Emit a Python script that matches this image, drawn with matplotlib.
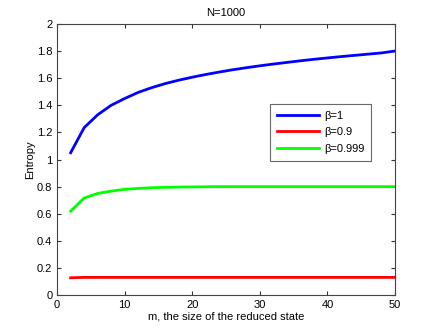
import numpy as np
import matplotlib
matplotlib.use('Agg')
from matplotlib import pyplot as plt

plt.rcParams['font.family'] = ['Liberation Sans', 'DejaVu Sans']

m = [2, 4, 6, 8, 10, 12, 14, 16, 18, 20, 22, 24, 26, 28, 30, 32, 34, 36, 38, 40, 42, 44, 46, 48, 50]
beta_1 = [1.05, 1.235, 1.33, 1.40, 1.45, 1.495, 1.53, 1.56, 1.585, 1.607, 1.627, 1.645, 1.662, 1.677,
          1.691, 1.704, 1.716, 1.728, 1.739, 1.749, 1.759, 1.768, 1.777, 1.786, 1.80]
beta_09 = [0.128, 0.131, 0.131, 0.131, 0.131, 0.131, 0.131, 0.131, 0.131, 0.131, 0.131, 0.131, 0.131,
           0.131, 0.131, 0.131, 0.131, 0.131, 0.131, 0.131, 0.131, 0.131, 0.131, 0.131, 0.131]
beta_0999 = [0.62, 0.716, 0.75, 0.767, 0.78, 0.787, 0.792, 0.795, 0.797, 0.798, 0.799, 0.80, 0.80,
             0.80, 0.80, 0.80, 0.80, 0.80, 0.80, 0.80, 0.80, 0.80, 0.80, 0.80, 0.80]
labels = ['β=1', 'β=0.9', 'β=0.999']

fig = plt.figure(figsize=(4.36, 3.32), dpi=100)
ax = fig.add_axes([0.131, 0.111, 0.775, 0.817])
ax.plot(m, beta_1, color='#0000ff', lw=2, label=labels[0])
ax.plot(m, beta_09, color='#ff0000', lw=2, label=labels[1])
ax.plot(m, beta_0999, color='#00ff00', lw=2, label=labels[2])

ax.set_xlim(0, 50)
ax.set_ylim(0, 2)
ax.set_xticks([0, 10, 20, 30, 40, 50])
ax.set_yticks(np.arange(0, 2.01, 0.2))
ax.set_yticklabels(['0', '0.2', '0.4', '0.6', '0.8', '1', '1.2', '1.4', '1.6', '1.8', '2'])
ax.tick_params(direction='in', top=True, right=True, length=3, labelsize=8, color='#333333')
for s in ax.spines.values():
    s.set_color('#444444')
    s.set_linewidth(0.8)

ax.set_title('N=1000', fontsize=8)
ax.set_xlabel('m, the size of the reduced state', fontsize=8, labelpad=1)
ax.set_ylabel('Entropy', fontsize=8, labelpad=1)

leg = ax.legend(loc='upper left', bbox_to_anchor=(0.63, 0.705), borderaxespad=0, fontsize=8,
                fancybox=False, edgecolor='#444444', handlelength=3.8, borderpad=0.6,
                labelspacing=0.6, handletextpad=0.5)
leg.get_frame().set_linewidth(0.8)

plt.savefig('out.png', dpi=100)
